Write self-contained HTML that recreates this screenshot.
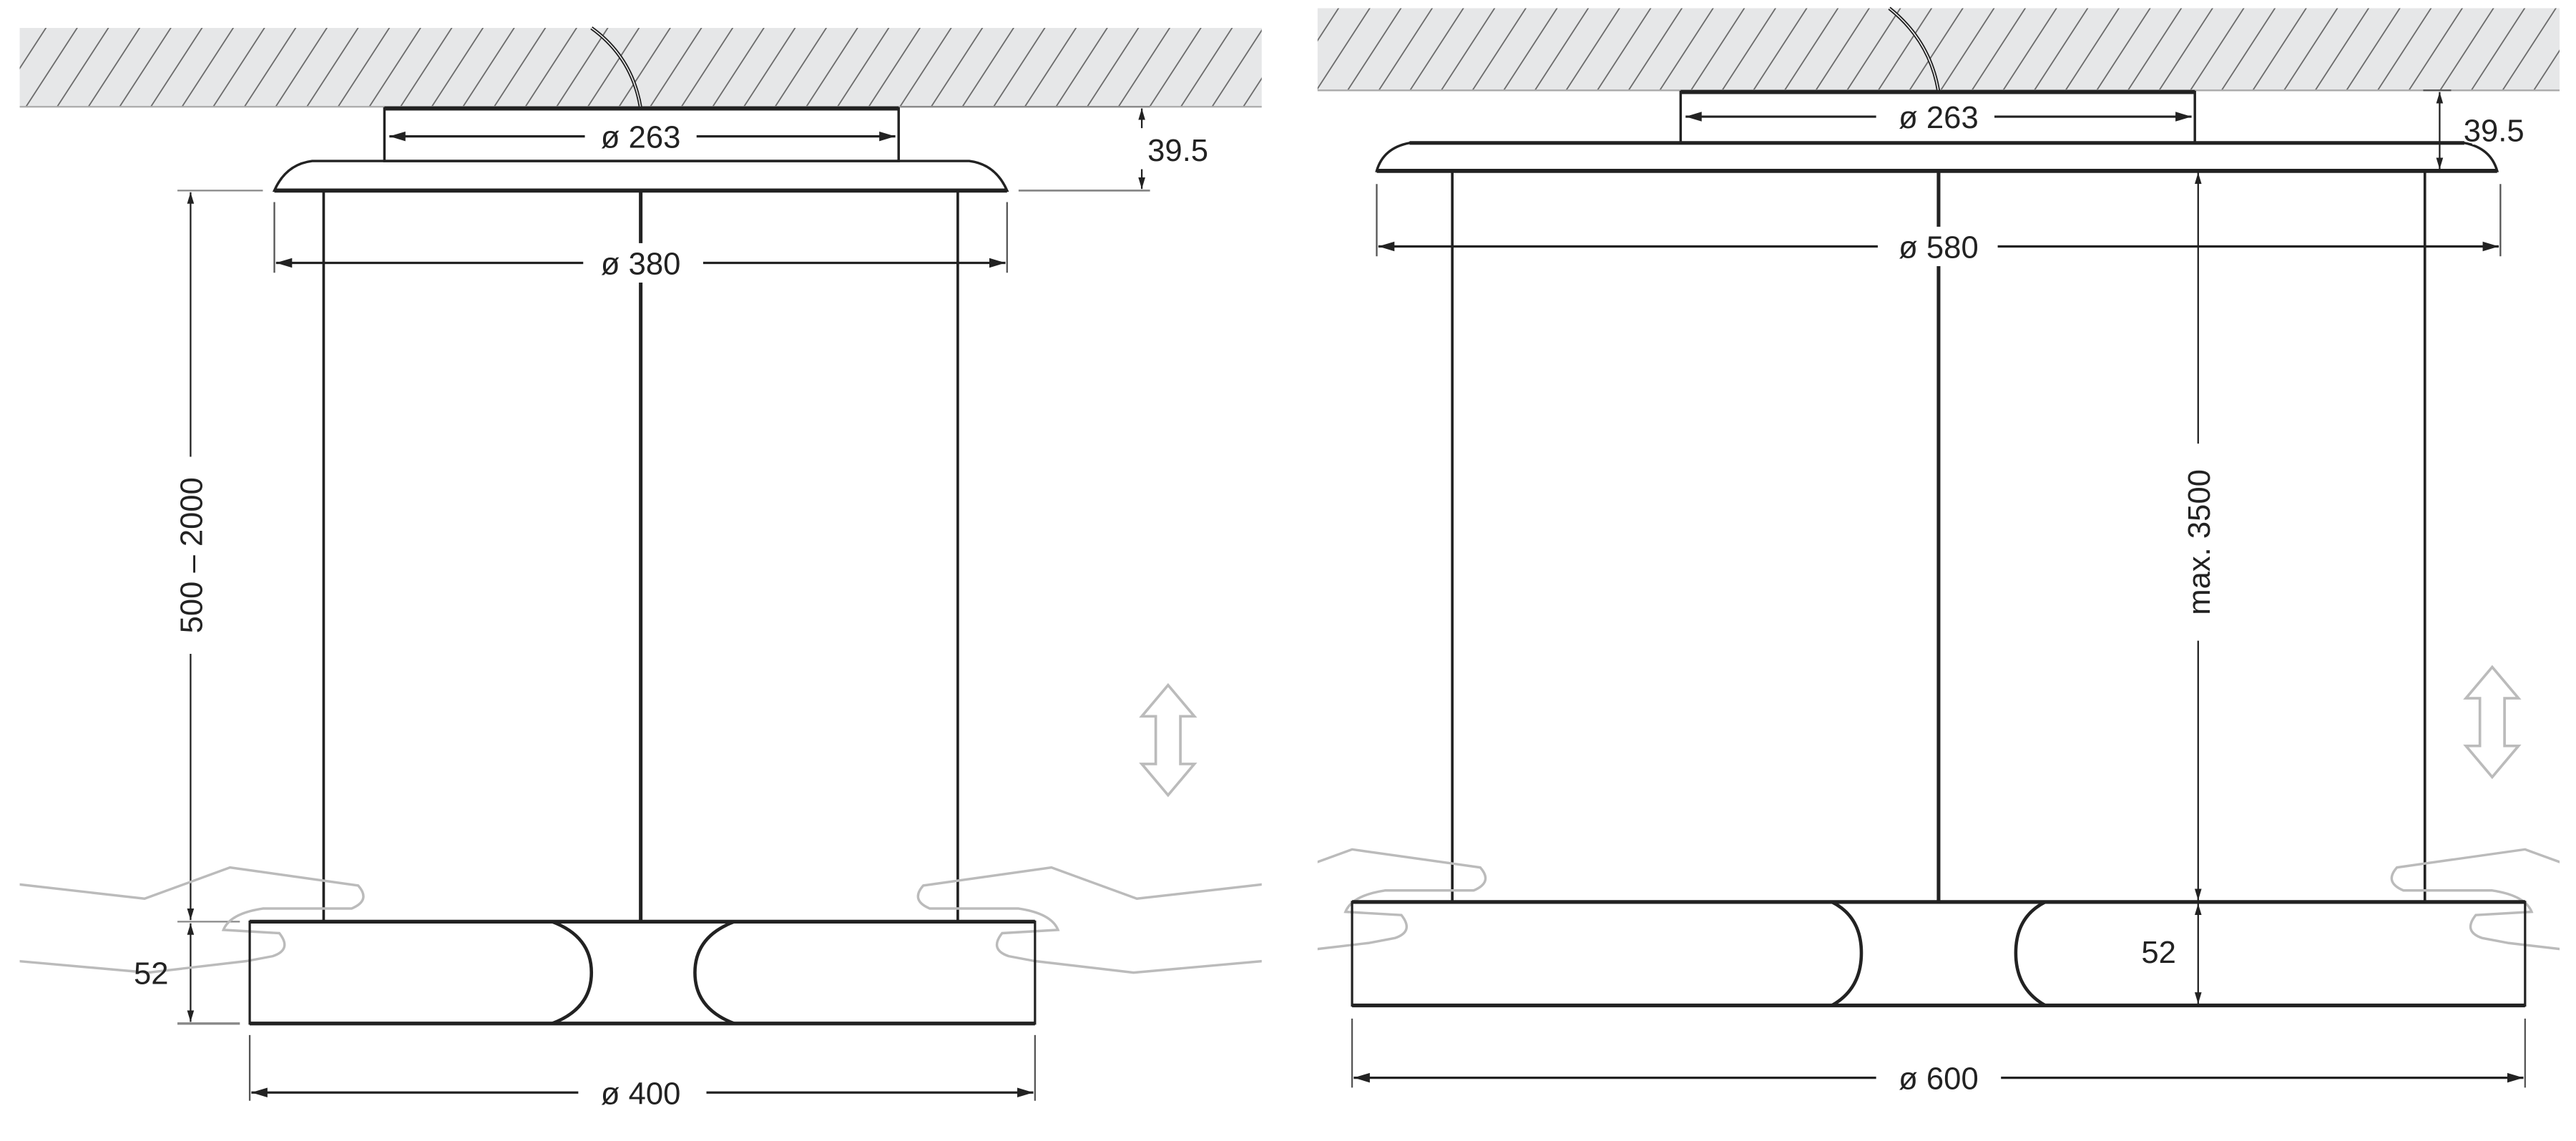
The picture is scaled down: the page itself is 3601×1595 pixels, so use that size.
<!DOCTYPE html>
<html><head><meta charset="utf-8"><style>
html,body{margin:0;padding:0;background:#fff;}
svg{display:block;}
text{font-family:"Liberation Sans",sans-serif;font-size:19px;fill:#222;}
</style></head><body>
<svg width="3601" height="1595" viewBox="0 0 1568 694.5" preserveAspectRatio="none" xmlns="http://www.w3.org/2000/svg">
<defs>
<pattern id="h" patternUnits="userSpaceOnUse" width="19" height="60" patternTransform="skewX(-33)">
<rect width="19" height="60" fill="#e6e7e8"/>
<line x1="1" y1="0" x2="1" y2="60" stroke="#666" stroke-width="0.9"/>
</pattern>
<marker id="a" viewBox="0 0 10 10" refX="10" refY="5" markerWidth="7" markerHeight="7" orient="auto-start-reverse"><path d="M0,2 L10,5 L0,8z" fill="#222"/></marker>
<path id="arr" d="M0,-33 L16,-14 L7.5,-14 L7.5,15 L16,15 L0,34 L-16,15 L-7.5,15 L-7.5,-14 L-16,-14Z" fill="none" stroke="#bbb" stroke-width="1.6"/>
<path id="hand" d="M0,537 L88,547 L140,528 L218,539 Q226,548 214,553 L160,553 Q140,556 136,566 L170,568 Q178,578 166,582 L150,585 L90,592 L0,584" fill="none" stroke="#bbb" stroke-width="1.5"/>
<clipPath id="c1"><rect x="12" y="0" width="756" height="700"/></clipPath>
<clipPath id="c2"><rect x="802" y="0" width="756" height="700"/></clipPath>
</defs>
<g stroke="#222" fill="none">
<!-- LEFT -->
<rect x="12" y="17" width="756" height="48" fill="url(#h)" stroke="none"/>
<line x1="12" y1="65" x2="768" y2="65" stroke="#aaa" stroke-width="1"/>
<path d="M360,17 Q385,35 390,66" stroke-width="2.2"/>
<path d="M360,17 Q385,35 390,66" stroke="#fff" stroke-width="0.6"/>
<rect x="234" y="66" width="313" height="32" stroke-width="1.5"/>
<line x1="234" y1="66" x2="547" y2="66" stroke-width="2.5"/>
<path d="M167,116 Q174,100 190,98 L590,98 Q606,100 613,116 Z" stroke-width="1.5"/>
<line x1="167" y1="116" x2="613" y2="116" stroke-width="2.5"/>
<line x1="237" y1="83" x2="356" y2="83" stroke-width="1.4" marker-start="url(#a)"/>
<line x1="424" y1="83" x2="545" y2="83" stroke-width="1.4" marker-end="url(#a)"/>
<line x1="548" y1="65" x2="700" y2="65" stroke="#888"/>
<line x1="620" y1="116" x2="700" y2="116" stroke="#888" stroke-width="1.2"/>
<line x1="695" y1="66" x2="695" y2="78" marker-start="url(#a)"/>
<line x1="695" y1="103" x2="695" y2="115" marker-end="url(#a)"/>
<line x1="197" y1="116" x2="197" y2="561" stroke-width="1.6"/>
<line x1="390" y1="116" x2="390" y2="561" stroke-width="2.2"/>
<line x1="583" y1="116" x2="583" y2="561" stroke-width="1.6"/>
<line x1="167" y1="123" x2="167" y2="166" stroke="#555"/>
<line x1="613" y1="123" x2="613" y2="166" stroke="#555"/>
<line x1="168" y1="160" x2="355" y2="160" stroke-width="1.4" marker-start="url(#a)"/>
<line x1="428" y1="160" x2="612" y2="160" stroke-width="1.4" marker-end="url(#a)"/>
<line x1="108" y1="116" x2="160" y2="116" stroke="#888"/>
<line x1="116" y1="117" x2="116" y2="278" marker-start="url(#a)"/>
<line x1="116" y1="398" x2="116" y2="560" marker-end="url(#a)"/>
<line x1="108" y1="561" x2="146" y2="561" stroke="#888"/>
<line x1="108" y1="623" x2="146" y2="623" stroke="#888" stroke-width="1.5"/>
<line x1="116" y1="562" x2="116" y2="622" marker-start="url(#a)" marker-end="url(#a)"/>
<g clip-path="url(#c1)"><use href="#hand"/><use href="#hand" transform="translate(780,0) scale(-1,1)"/></g>
<rect x="152" y="561" width="478" height="62" stroke-width="1.4"/>
<line x1="152" y1="561" x2="630" y2="561" stroke-width="2.3"/>
<line x1="152" y1="623" x2="630" y2="623" stroke-width="2.3"/>
<path d="M336,561 Q360,570 360,592 Q360,614 336,623" stroke-width="2"/>
<path d="M447,561 Q423,570 423,592 Q423,614 447,623" stroke-width="2"/>
<line x1="152" y1="630" x2="152" y2="670" stroke="#555"/>
<line x1="630" y1="630" x2="630" y2="670" stroke="#555"/>
<line x1="153" y1="665" x2="352" y2="665" stroke-width="1.4" marker-start="url(#a)"/>
<line x1="430" y1="665" x2="629" y2="665" stroke-width="1.4" marker-end="url(#a)"/>
<use href="#arr" transform="translate(711,450)"/>
<!-- RIGHT -->
<rect x="802" y="5" width="756" height="50" fill="url(#h)" stroke="none"/>
<line x1="802" y1="55" x2="1558" y2="55" stroke="#aaa" stroke-width="1"/>
<path d="M1150,5 Q1175,25 1180,56" stroke-width="2.2"/>
<path d="M1150,5 Q1175,25 1180,56" stroke="#fff" stroke-width="0.6"/>
<rect x="1023" y="56" width="313" height="31" stroke-width="1.5"/>
<line x1="1023" y1="56" x2="1336" y2="56" stroke-width="2.5"/>
<path d="M838,104 Q842,90 858,87 L1500,87 Q1516,90 1520,104 Z" stroke-width="1.5"/>
<line x1="858" y1="87" x2="1500" y2="87" stroke-width="2.2"/>
<line x1="838" y1="104" x2="1520" y2="104" stroke-width="2.5"/>
<line x1="1026" y1="71" x2="1142" y2="71" stroke-width="1.4" marker-start="url(#a)"/>
<line x1="1214" y1="71" x2="1334" y2="71" stroke-width="1.4" marker-end="url(#a)"/>
<line x1="1475" y1="55" x2="1492" y2="55" stroke="#555"/>
<line x1="1485" y1="56" x2="1485" y2="103" marker-start="url(#a)" marker-end="url(#a)"/>
<line x1="884" y1="104" x2="884" y2="549" stroke-width="1.6"/>
<line x1="1180" y1="104" x2="1180" y2="549" stroke-width="2.2"/>
<line x1="1476" y1="104" x2="1476" y2="549" stroke-width="1.6"/>
<line x1="838" y1="112" x2="838" y2="156" stroke="#555"/>
<line x1="1522" y1="112" x2="1522" y2="156" stroke="#555"/>
<line x1="839" y1="150" x2="1143" y2="150" stroke-width="1.4" marker-start="url(#a)"/>
<line x1="1216" y1="150" x2="1521" y2="150" stroke-width="1.4" marker-end="url(#a)"/>
<line x1="1338" y1="105" x2="1338" y2="270" marker-start="url(#a)"/>
<line x1="1338" y1="390" x2="1338" y2="548" marker-end="url(#a)"/>
<line x1="1338" y1="550" x2="1338" y2="611" marker-start="url(#a)" marker-end="url(#a)"/>
<g clip-path="url(#c2)"><use href="#hand" transform="translate(683,-11)"/><use href="#hand" transform="translate(1677,-11) scale(-1,1)"/></g>
<rect x="823" y="549" width="714" height="63" stroke-width="1.4"/>
<line x1="823" y1="549" x2="1537" y2="549" stroke-width="2.3"/>
<line x1="823" y1="612" x2="1537" y2="612" stroke-width="2.3"/>
<path d="M1115,549 Q1133,558 1133,580 Q1133,602 1115,612" stroke-width="2"/>
<path d="M1245,549 Q1227,558 1227,580 Q1227,602 1245,612" stroke-width="2"/>
<line x1="823" y1="620" x2="823" y2="662" stroke="#555"/>
<line x1="1537" y1="620" x2="1537" y2="662" stroke="#555"/>
<line x1="824" y1="656" x2="1142" y2="656" stroke-width="1.4" marker-start="url(#a)"/>
<line x1="1218" y1="656" x2="1536" y2="656" stroke-width="1.4" marker-end="url(#a)"/>
<use href="#arr" transform="translate(1517,439)"/>
</g>
<g fill="#fff">
<rect x="360" y="148" width="60" height="24"/>
<rect x="1150" y="138" width="60" height="24"/>
<rect x="1505" y="66" width="40" height="22"/>
</g>
<g>
<text x="390" y="90" text-anchor="middle">ø 263</text>
<text x="717" y="98" text-anchor="middle">39.5</text>
<text x="390" y="167" text-anchor="middle">ø 380</text>
<text transform="translate(123,338) rotate(-90)" text-anchor="middle">500 – 2000</text>
<text x="92" y="599" text-anchor="middle">52</text>
<text x="390" y="672" text-anchor="middle">ø 400</text>
<text x="1180" y="78" text-anchor="middle">ø 263</text>
<text x="1518" y="86" text-anchor="middle">39.5</text>
<text x="1180" y="157" text-anchor="middle">ø 580</text>
<text transform="translate(1345,330) rotate(-90)" text-anchor="middle">max. 3500</text>
<text x="1314" y="586" text-anchor="middle">52</text>
<text x="1180" y="663" text-anchor="middle">ø 600</text>
</g>
</svg>
</body></html>
